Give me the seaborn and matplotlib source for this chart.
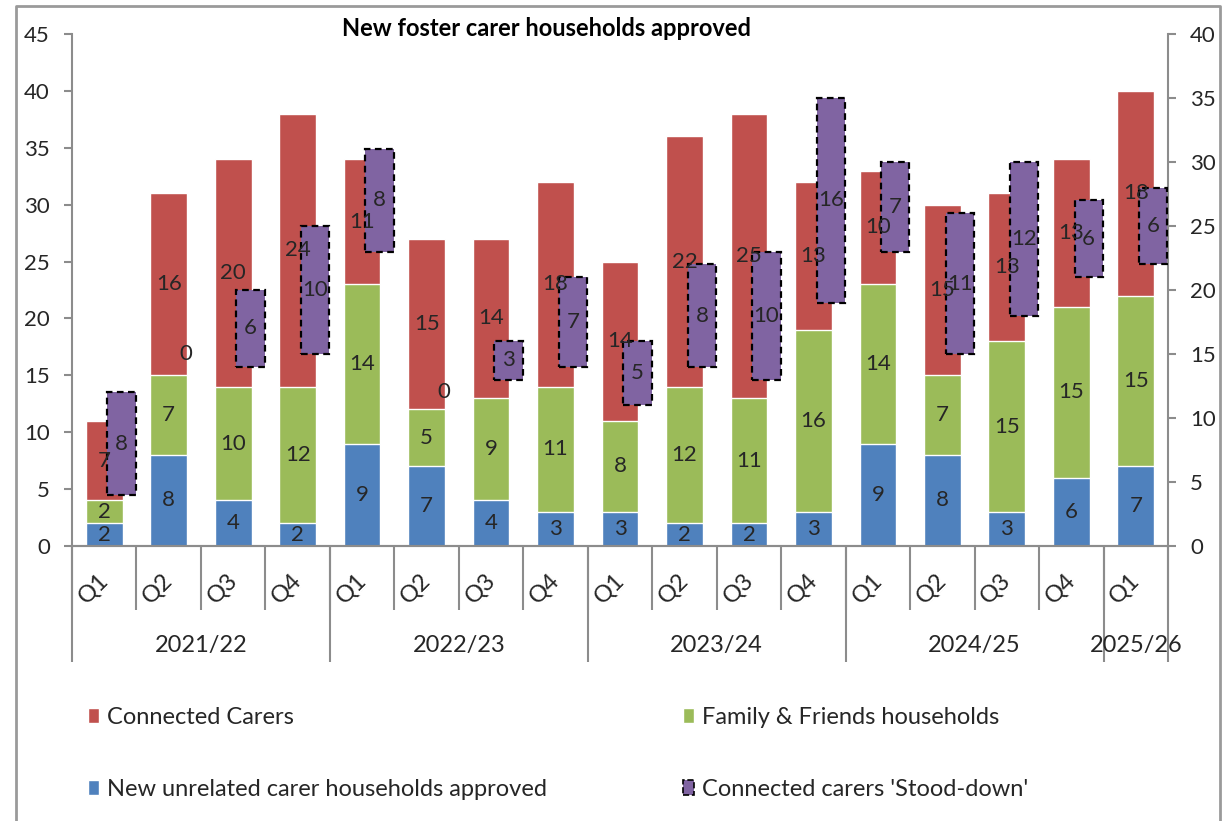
import numpy as np
import matplotlib
matplotlib.use("Agg")
import matplotlib.pyplot as plt
import seaborn as sns
from matplotlib.patches import Patch
from matplotlib.lines import Line2D

# quarters and financial years
quarters = ["Q1", "Q2", "Q3", "Q4", "Q1", "Q2", "Q3", "Q4", "Q1", "Q2", "Q3", "Q4",
            "Q1", "Q2", "Q3", "Q4", "Q1"]
years = ["2021/22", "2022/23", "2023/24", "2024/25", "2025/26"]
year_sizes = [4, 4, 4, 4, 1]

# stacked series (left axis)
unrelated = [2, 8, 4, 2, 9, 7, 4, 3, 3, 2, 2, 3, 9, 8, 3, 6, 7]
family_friends = [2, 7, 10, 12, 14, 5, 9, 11, 8, 12, 11, 16, 14, 7, 15, 15, 15]
connected = [7, 16, 20, 24, 11, 15, 14, 18, 14, 22, 25, 13, 10, 15, 13, 13, 18]

# floating series (right axis): hidden base + stood-down count
stood_base = [4, 15, 14, 15, 23, 12, 13, 14, 11, 14, 13, 19, 23, 15, 18, 21, 22]
stood_down = [8, 0, 6, 10, 8, 0, 3, 7, 5, 8, 10, 16, 7, 11, 12, 6, 6]

c_red = "#C0504D"
c_green = "#9BBB59"
c_blue = "#4F81BD"
c_purple = "#8064A2"
c_axis = "#8C8C8C"
c_text = "#262626"

sns.set_style("white")
plt.rcParams["font.family"] = ["Lato", "DejaVu Sans"]

n = len(quarters)
idx = np.arange(n)
lvl1 = np.array(unrelated)
lvl2 = lvl1 + np.array(family_friends)
lvl3 = lvl2 + np.array(connected)

fig = plt.figure(figsize=(12.28, 8.21), dpi=100)
ax = fig.add_axes([72 / 1228, 1 - 546 / 821, (1168 - 72) / 1228, 512 / 821])

# stacked bars drawn as overlapping cumulative bars
bw = 0.57
sns.barplot(x=idx, y=lvl3, color=c_red, width=bw, saturation=1, errorbar=None, ax=ax)
sns.barplot(x=idx, y=lvl2, color=c_green, width=bw, saturation=1, errorbar=None, ax=ax)
sns.barplot(x=idx, y=lvl1, color=c_blue, width=bw, saturation=1, errorbar=None, ax=ax)

ax.set_xlim(-0.5, n - 0.5)
ax.set_ylim(0, 45)
ax.set_yticks(range(0, 46, 5))
ax.set_xticks([])
ax.set_xlabel("")
ax.set_ylabel("")

ax2 = ax.twinx()
ax2.set_ylim(0, 40)
ax2.set_yticks(range(0, 41, 5))
edge_cols = ["black" if v > 0 else "none" for v in stood_down]
ax2.bar(idx + 0.27, stood_down, bottom=stood_base, width=0.44, color=c_purple,
        edgecolor=edge_cols, linestyle=(0, (3, 2)), linewidth=1.6, zorder=3)

fs = 16
for a in (ax, ax2):
    for s in a.spines.values():
        s.set_color(c_axis)
        s.set_linewidth(1.5)
    a.spines["top"].set_visible(False)
    a.tick_params(axis="y", direction="out", length=6, width=1.5, color=c_axis,
                  labelsize=fs, labelcolor=c_text, pad=10)
ax2.spines["left"].set_visible(False)
ax.spines["right"].set_visible(False)

# data labels (on top axis so they sit over the purple bars)
lab_kw = dict(ha="center", va="center", fontsize=fs, color=c_text, zorder=5)
for i in idx:
    ax2.text(i, lvl1[i] / 2, str(unrelated[i]), transform=ax.transData, **lab_kw)
    ax2.text(i, (lvl1[i] + lvl2[i]) / 2, str(family_friends[i]), transform=ax.transData, **lab_kw)
    ax2.text(i, (lvl2[i] + lvl3[i]) / 2, str(connected[i]), transform=ax.transData, **lab_kw)
    ax2.text(i + 0.27, stood_base[i] + stood_down[i] / 2, str(stood_down[i]), **lab_kw)

# category axis: quarter labels, separators, year labels
xt = ax.get_xaxis_transform()
ax.vlines(np.arange(n + 1) - 0.5, -0.125, 0, transform=xt, colors=c_axis,
          linewidth=1.5, clip_on=False)
bounds = np.concatenate([[0], np.cumsum(year_sizes)]) - 0.5
ax.vlines(bounds, -0.2266, 0, transform=xt, colors=c_axis, linewidth=1.5, clip_on=False)
for i, q in enumerate(quarters):
    ax.text(i - 0.17, -0.082, q, transform=xt, rotation=45, ha="center", va="center",
            fontsize=17, color=c_text)
for k, yr in enumerate(years):
    ax.text((bounds[k] + bounds[k + 1]) / 2, -0.195, yr, transform=xt, ha="center",
            va="center", fontsize=17, color=c_text)

fig.text(546 / 1228, 1 - 28 / 821, "New foster carer households approved", ha="center",
         va="center", fontsize=17, fontweight="bold", color="black")

handles = [Patch(facecolor=c_red, label="Connected Carers"),
           Patch(facecolor=c_blue, label="New unrelated carer households approved"),
           Patch(facecolor=c_green, label="Family & Friends households"),
           Patch(facecolor=c_purple, edgecolor="black", linestyle="--", linewidth=1.2,
                 label="Connected carers 'Stood-down'")]
fig.legend(handles=handles, ncol=2, loc="upper left", bbox_to_anchor=(67 / 1228, 1 - 686 / 821),
           frameon=False, fontsize=17, handlelength=0.45, handleheight=0.6, handletextpad=0.35,
           labelspacing=2.15, columnspacing=5.75, labelcolor=c_text)

# outer frame
fig.add_artist(Line2D([16 / 1228, 16 / 1228, 1220 / 1228, 1220 / 1228],
                      [0, 1 - 6 / 821, 1 - 6 / 821, 0], color="#9A9A9A", linewidth=2))

fig.savefig("out.png", dpi=100)
